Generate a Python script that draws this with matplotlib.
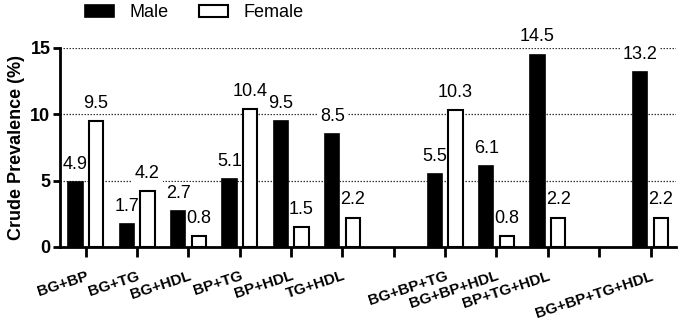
import matplotlib
matplotlib.use("Agg")
import matplotlib.pyplot as plt
import numpy as np

plt.rcParams['font.family'] = ['Liberation Sans', 'DejaVu Sans']

categories = ["BG+BP", "BG+TG", "BG+HDL", "BP+TG", "BP+HDL", "TG+HDL",
              "BG+BP+TG", "BG+BP+HDL", "BP+TG+HDL", "BG+BP+TG+HDL"]
slots = [0, 1, 2, 3, 4, 5, 7, 8, 9, 11]  # empty slots at 6 and 10
male = [4.9, 1.7, 2.7, 5.1, 9.5, 8.5, 5.5, 6.1, 14.5, 13.2]
female = [9.5, 4.2, 0.8, 10.4, 1.5, 2.2, 10.3, 0.8, 2.2, 2.2]

fig = plt.figure(figsize=(6.83, 3.24), dpi=100)
ax = fig.add_axes([0.088, 0.238, 0.902, 0.614])

x = np.array(slots, dtype=float)
off = 0.2
w = 0.28
ax.bar(x - off, male, w, color='black', edgecolor='black', linewidth=1.2,
       label='Male', zorder=3)
ax.bar(x + off, female, w, color='white', edgecolor='black', linewidth=1.5,
       label='Female', zorder=3)

# dotted gridlines
for yv in [5, 10, 15]:
    ax.axhline(yv, color='#333333', linestyle=(0, (1.2, 1.2)), linewidth=0.9,
               zorder=1)

# value labels: white box hides the gridline, bars drawn on top
for xs, vals in [(x - off, male), (x + off, female)]:
    for xi, v in zip(xs, vals):
        ax.text(xi, v + 0.7, f"{v:.1f}", ha='center', va='bottom',
                fontsize=13, zorder=2, clip_on=False,
                bbox=dict(facecolor='white', edgecolor='none', pad=2))

ax.set_xlim(-0.5, 11.5)
ax.set_ylim(0, 15)
ax.set_yticks([0, 5, 10, 15])
ax.set_yticklabels(['0', '5', '10', '15'], fontsize=13, fontweight='bold')

ticklabels = [''] * 12
for s, c in zip(slots, categories):
    ticklabels[s] = c
ax.set_xticks(range(12))
ax.set_xticklabels(ticklabels, rotation=18, ha='right', rotation_mode='anchor',
                   fontsize=11, fontweight='bold')
ax.tick_params(axis='x', length=7, width=2, pad=9)
ax.tick_params(axis='y', length=5, width=2, pad=2)

for side in ['top', 'right']:
    ax.spines[side].set_visible(False)
for side in ['left', 'bottom']:
    ax.spines[side].set_linewidth(2)

ax.set_ylabel('Crude Prevalence (%)', fontsize=13, fontweight='bold', labelpad=4)

ax.legend(loc='center', bbox_to_anchor=(0.218, 1.176), ncol=2,
          frameon=False, fontsize=13, handlelength=1.6, handleheight=0.6,
          columnspacing=1.7, handletextpad=0.85)

fig.savefig('out.png', dpi=100)
